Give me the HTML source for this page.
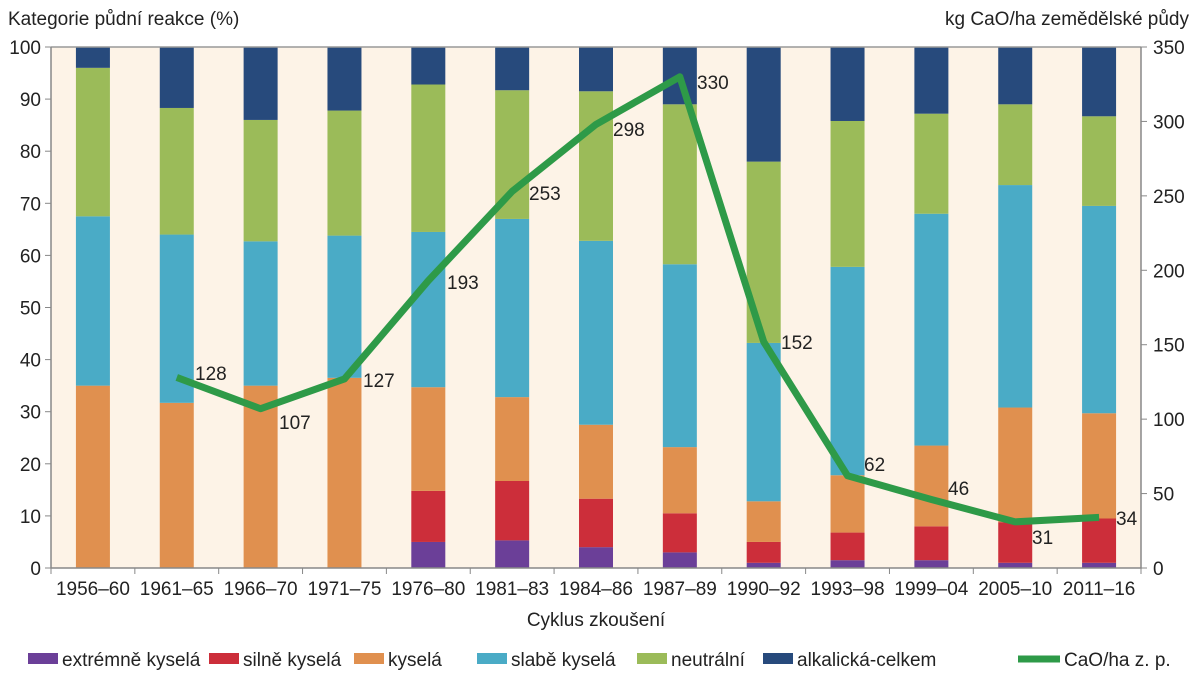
<!DOCTYPE html>
<html><head><meta charset="utf-8"><style>
body{margin:0;background:#fff;}
svg{display:block;font-family:"Liberation Sans",sans-serif;}
</style></head><body>
<svg id="s" width="1200" height="678" xmlns="http://www.w3.org/2000/svg"></svg>
<script>
const s=document.getElementById('s');
let h='';
const L=51,R=1141,T=47,B=568,n=13,st=(R-L)/n;
const Y=v=>B-(B-T)*v/100, Y2=v=>B-(B-T)*v/350;
h+=`<rect x="${L}" y="${T}" width="${R-L}" height="${B-T}" fill="#fdf3e7"/>`;
const cats=["1956–60","1961–65","1966–70","1971–75","1976–80","1981–83","1984–86","1987–89","1990–92","1993–98","1999–04","2005–10","2011–16"];
const d=[[0,0,35,67.5,96,100],[0,0,31.7,64,88.3,100],[0,0,35,62.7,86,100],[0,0,36.5,63.8,87.8,100],[5,14.8,34.7,64.5,92.8,100],[5.3,16.7,32.8,67,91.7,100],[4,13.3,27.5,62.8,91.5,100],[3,10.5,23.2,58.3,89,100],[1,5,12.8,43.2,78,100],[1.5,6.8,17.8,57.8,85.8,100],[1.5,8,23.5,68,87.2,100],[1,8.8,30.8,73.5,89,100],[1,9.5,29.7,69.5,86.7,100]];
const col=["#6b3f98","#cc2e3a","#e0904f","#4aabc6","#9bbb59","#274a7c"];
d.forEach((r,i)=>{const cx=L+st*(i+0.5);let p=0;r.forEach((v,k)=>{if(v>p){h+=`<rect x="${cx-17}" y="${Y(v)}" width="34" height="${Y(p)-Y(v)}" fill="${col[k]}"/>`;}p=v;});});
h+=`<line x1="${L}" y1="${T}" x2="${R}" y2="${T}" stroke="#999" stroke-width="1.5"/>`;
h+=`<path d="M${L},${T}V${B}H${R}V${T}" fill="none" stroke="#888" stroke-width="1.5"/>`;
for(let v=0;v<=100;v+=10){const y=Y(v);h+=`<line x1="${L-6}" y1="${y}" x2="${L}" y2="${y}" stroke="#888"/><text x="${L-10}" y="${y+7}" font-size="19" text-anchor="end" fill="#222">${v}</text>`;}
for(let v=0;v<=350;v+=50){const y=Y2(v);h+=`<line x1="${R}" y1="${y}" x2="${R+6}" y2="${y}" stroke="#888"/><text x="${R+12}" y="${y+7}" font-size="19" fill="#222">${v}</text>`;}
for(let i=0;i<=n;i++){const x=L+st*i;h+=`<line x1="${x}" y1="${B}" x2="${x}" y2="${B+6}" stroke="#888"/>`;}
cats.forEach((c,i)=>{h+=`<text x="${L+st*(i+0.5)}" y="${B+27}" font-size="19" text-anchor="middle" fill="#222">${c}</text>`;});
const lv=[null,128,107,127,193,253,298,330,152,62,46,31,34];
let pts=[];lv.forEach((v,i)=>{if(v!=null)pts.push([L+st*(i+0.5),Y2(v)]);});
h+=`<polyline points="${pts.map(p=>p.join(',')).join(' ')}" fill="none" stroke="#2e9a48" stroke-width="7" stroke-linejoin="round"/>`;
const lab=[[195,373],[279,422],[363,380],[447,282],[529,193],[613,129],[697,82],[781,342],[864,464],[948,488],[1032,537],[1116,518]];
lab.forEach((l,j)=>{h+=`<text x="${l[0]}" y="${l[1]+7}" font-size="19" fill="#222">${lv[j+1]}</text>`;});
h+=`<text x="8" y="25" font-size="19" fill="#222">Kategorie půdní reakce (%)</text>`;
h+=`<text x="1189" y="25" font-size="19" fill="#222" text-anchor="end">kg CaO/ha zemědělské půdy</text>`;
h+=`<text x="596" y="626" font-size="19" fill="#222" text-anchor="middle">Cyklus zkoušení</text>`;
const lg=[["extrémně kyselá",28],["silně kyselá",209],["kyselá",354],["slabě kyselá",477],["neutrální",637],["alkalická-celkem",763]];
lg.forEach((g,k)=>{h+=`<rect x="${g[1]}" y="653" width="30" height="11" fill="${col[k]}"/><text x="${g[1]+34}" y="666" font-size="19" fill="#222">${g[0]}</text>`;});
h+=`<line x1="1018" y1="659" x2="1060" y2="659" stroke="#2e9a48" stroke-width="7"/><text x="1064" y="666" font-size="19" fill="#222">CaO/ha z. p.</text>`;
s.innerHTML=h;
</script>
</body></html>
